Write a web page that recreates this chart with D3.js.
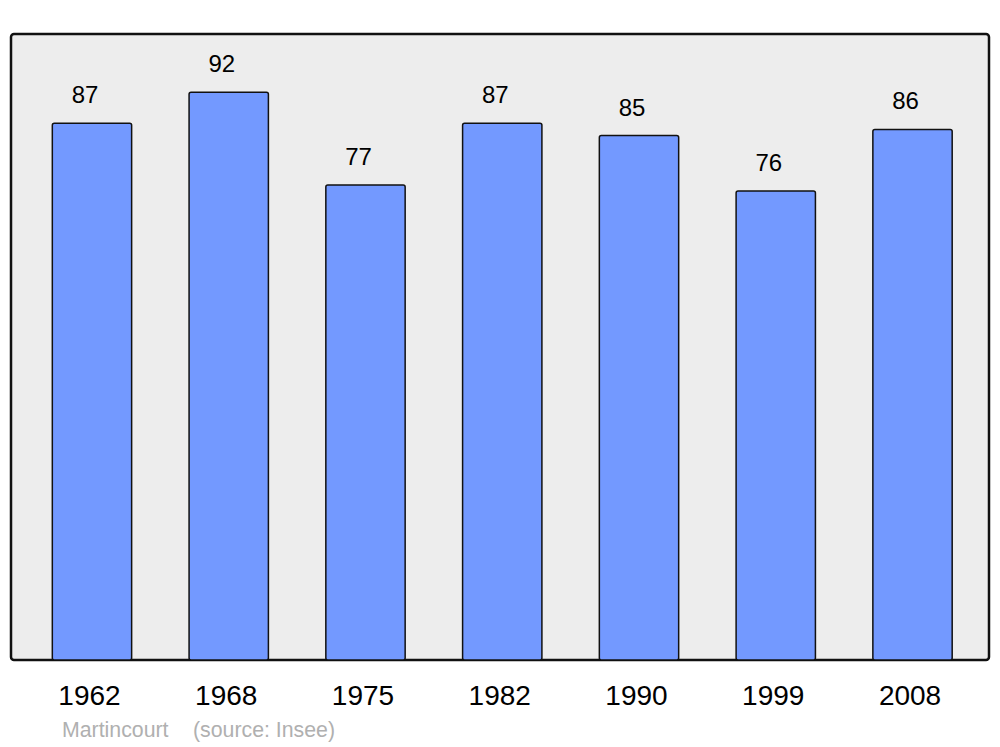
<!DOCTYPE html>
<html>
<head>
<meta charset="utf-8">
<script src="https://cdn.jsdelivr.net/npm/d3@7"></script>
<style>
body{margin:0;background:#fff;}
text{font-family:"Liberation Sans",Arial,sans-serif;}
</style>
</head>
<body>
<script>
// data
let years = ['1962','1968','1975','1982','1990','1999','2008'];
let population = [87,92,77,87,85,76,86];
let commune = 'Martincourt';
let source = '(source: Insee)';

let width = 1000, height = 747;
let svg = d3.select('body').append('svg').attr('width',width).attr('height',height);

// scales
let x = d3.scaleBand().domain(years).range([23.6,980.9]).paddingInner(0.42).paddingOuter(0.21);
let y = d3.scaleLinear().domain([0,100]).range([660,43]);

// background panel
svg.append('rect').attr('x',11).attr('y',34).attr('width',978).attr('height',626)
  .attr('rx',3).attr('fill','#ededed').attr('stroke','#111').attr('stroke-width',2.5);

let data = years.map((d,i)=>({year:d,value:population[i]}));

// bars
svg.append('g').selectAll('rect').data(data).join('rect')
  .attr('x',d=>x(d.year)).attr('width',x.bandwidth())
  .attr('y',d=>y(d.value)).attr('height',d=>y(0)-y(d.value))
  .attr('rx',2).attr('fill','#7399ff').attr('stroke','#111').attr('stroke-width',1.5);

// value labels
svg.append('g').selectAll('text').data(data).join('text')
  .attr('x',d=>x(d.year)+x.bandwidth()/2-7).attr('y',d=>y(d.value)-20)
  .attr('text-anchor','middle').attr('font-size',24).attr('fill','#000')
  .text(d=>d.value);

// x axis labels
let xAxis = svg.append('g').attr('transform','translate(0,660)')
  .call(d3.axisBottom(x).tickSize(0).tickPadding(0));
xAxis.select('.domain').remove();
xAxis.selectAll('text').attr('font-size',28).attr('fill','#000')
  .attr('font-family','"Liberation Sans",Arial,sans-serif').attr('dy',0).attr('y',45).attr('dx',-2.5);

// source line
svg.append('text').attr('x',62).attr('y',737).attr('font-size',21.3).attr('fill','#b0b0b0').text(commune);
svg.append('text').attr('x',193).attr('y',737).attr('font-size',21.3).attr('fill','#b0b0b0').text(source);
</script>
</body>
</html>
